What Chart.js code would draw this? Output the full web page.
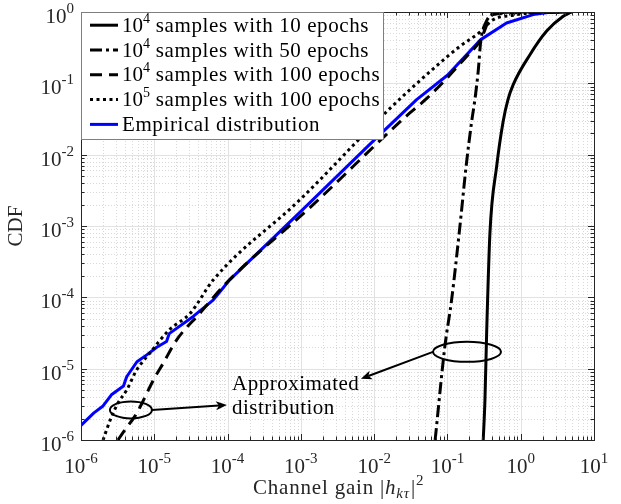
<!DOCTYPE html>
<html>
<head>
<meta charset="utf-8">
<script src="https://cdn.jsdelivr.net/npm/chart.js@4.4.0/dist/chart.umd.min.js"></script>
<style>
  html, body { margin: 0; padding: 0; background: #fff; }
  #wrap { width: 621px; height: 504px; }
</style>
</head>
<body>
<div id="wrap"><canvas id="cdfChart" width="621" height="504"></canvas></div>
<script>
// values (log-log CDF of channel gain)
const xDecades = [-6, -5, -4, -3, -2, -1, 0, 1];
const yDecades = [-6, -5, -4, -3, -2, -1, 0];

// 10^4 samples with 10 epochs (solid)
const ep10X = [0.308, 0.325, 0.343, 0.38, 0.47, 0.575, 0.67, 0.79, 1.33, 2.26, 3.8, 4.9];
const ep10Y = [1e-6, 3.6e-6, 3.2e-5, 7.9e-4, 6.9e-3, 0.029, 0.059, 0.096, 0.25, 0.54, 0.87, 1];

// 10^4 samples with 50 epochs (dash-dot)
const ep50X = [0.068, 0.092, 0.114, 0.148, 0.18, 0.214, 0.237, 0.263, 0.285, 0.34, 0.46, 0.7, 4.9];
const ep50Y = [1e-6, 2e-5, 9.2e-5, 9.9e-4, 6.9e-3, 0.029, 0.059, 0.148, 0.39, 0.74, 0.97, 0.995, 1];

// 10^4 samples with 100 epochs (dashed)
const ep100X = [3.2e-6, 3.8e-6, 5.5e-6, 6.4e-6, 9.7e-6, 1.33e-5, 2.0e-5, 4.2e-5, 9.7e-5, 1.4e-3, 2.6e-2, 5.0e-2, 9.0e-2, 0.17, 0.277, 0.42, 1.0, 4.9];
const ep100Y = [1e-6, 1.3e-6, 2.2e-6, 2.9e-6, 6.9e-6, 1.2e-5, 2.5e-5, 6e-5, 1.6e-4, 1.9e-3, 0.033, 0.059, 0.107, 0.22, 0.39, 0.92, 0.98, 1];

// 10^5 samples with 100 epochs (dotted)
const big100X = [2.0e-6, 2.5e-6, 3.2e-6, 4.2e-6, 5.75e-6, 8.3e-6, 1.6e-5, 3.1e-5, 6.4e-5, 1e-3, 1.4e-2, 6.4e-2, 0.148, 0.277, 0.42, 0.79, 1.33, 4.9];
const big100Y = [1e-6, 1.9e-6, 3.3e-6, 5e-6, 9.6e-6, 1.56e-5, 3.5e-5, 6e-5, 1.76e-4, 2.4e-3, 0.038, 0.16, 0.33, 0.52, 0.78, 0.9, 0.97, 1];

// empirical distribution (blue)
const empX = [1e-6, 1.5e-6, 2.0e-6, 2.6e-6, 3.8e-6, 4.2e-6, 5.8e-6, 7.9e-6, 1.08e-5, 1.47e-5, 1.6e-5, 3.4e-5, 6.4e-5, 1.07e-4, 1e-3, 1e-2, 3.8e-2, 0.1, 0.285, 0.64, 1.48, 2.5, 4.9];
const empY = [1.6e-6, 2.4e-6, 3.0e-6, 4.3e-6, 5.7e-6, 7.7e-6, 1.25e-5, 1.56e-5, 2.0e-5, 2.4e-5, 3.1e-5, 5.4e-5, 9.2e-5, 1.76e-4, 1.6e-3, 1.6e-2, 0.059, 0.13, 0.41, 0.70, 0.92, 0.99, 1];

const legendLabels = [
  ['10', '4', ' samples with 10 epochs'],
  ['10', '4', ' samples with 50 epochs'],
  ['10', '4', ' samples with 100 epochs'],
  ['10', '5', ' samples with 100 epochs'],
  ['', '', 'Empirical distribution']
];

// annotation anchors (data coordinates)
const noteText = ['Approximated', 'distribution'];
const noteAt = [1.15e-4, 5.0e-6];
const ellipseLow = [4.8e-6, 2.64e-6];
const ellipseHigh = [0.185, 1.72e-5];
const arrowLowTip = [9.8e-5, 3.1e-6];
const arrowHighTip = [6.6e-3, 7.2e-6];

function pts(xs, ys){ return xs.map((x, i) => ({ x: x, y: ys[i] })); }

const SERIF = '"Liberation Serif", "Times New Roman", serif';
const AXIS_COLOR = '#262626';

function spacing(ctx, px){ if ('letterSpacing' in ctx) ctx.letterSpacing = px + 'px'; }

function drawPow(ctx, base, exp, x, y, align, bSize, sSize, rise){
  ctx.font = bSize + 'px ' + SERIF;
  const wb = ctx.measureText(base).width;
  ctx.font = sSize + 'px ' + SERIF;
  const we = ctx.measureText(exp).width;
  let x0 = x;
  if (align === 'center') x0 = x - (wb + we) / 2;
  else if (align === 'right') x0 = x - wb - we;
  ctx.textAlign = 'left';
  ctx.font = bSize + 'px ' + SERIF;
  ctx.fillText(base, x0, y);
  ctx.font = sSize + 'px ' + SERIF;
  ctx.fillText(exp, x0 + wb, y - rise);
  return x0 + wb + we;
}

const matlabAxes = {
  id: 'matlabAxes',
  beforeDatasetsDraw(chart){
    const { ctx, chartArea: a, scales: { x, y } } = chart;
    ctx.save();
    ctx.lineWidth = 1;
    // minor dotted grid
    ctx.strokeStyle = '#d9d9d9';
    ctx.setLineDash([1, 2]);
    ctx.beginPath();
    xDecades.slice(0, -1).forEach(d => {
      for (let k = 2; k <= 9; k++){
        const px = Math.round(x.getPixelForValue(k * Math.pow(10, d))) + 0.5;
        ctx.moveTo(px, a.top); ctx.lineTo(px, a.bottom);
      }
    });
    yDecades.slice(0, -1).forEach(d => {
      for (let k = 2; k <= 9; k++){
        const py = Math.round(y.getPixelForValue(k * Math.pow(10, d))) + 0.5;
        ctx.moveTo(a.left, py); ctx.lineTo(a.right, py);
      }
    });
    ctx.stroke();
    // major solid grid
    ctx.setLineDash([]);
    ctx.strokeStyle = '#e2e2e2';
    ctx.beginPath();
    xDecades.forEach(d => {
      const px = Math.round(x.getPixelForValue(Math.pow(10, d))) + 0.5;
      ctx.moveTo(px, a.top); ctx.lineTo(px, a.bottom);
    });
    yDecades.forEach(d => {
      const py = Math.round(y.getPixelForValue(Math.pow(10, d))) + 0.5;
      ctx.moveTo(a.left, py); ctx.lineTo(a.right, py);
    });
    ctx.stroke();
    ctx.restore();
  },
  afterDatasetsDraw(chart){
    const { ctx, chartArea: a, scales: { x, y } } = chart;
    ctx.save();
    // annotations: ellipses + arrows
    ctx.strokeStyle = '#000';
    ctx.fillStyle = '#000';
    ctx.lineWidth = 2;
    const e1 = { x: x.getPixelForValue(ellipseLow[0]), y: y.getPixelForValue(ellipseLow[1]), rx: 21, ry: 8.5 };
    const e2 = { x: x.getPixelForValue(ellipseHigh[0]), y: y.getPixelForValue(ellipseHigh[1]), rx: 34, ry: 10 };
    [e1, e2].forEach(e => {
      ctx.beginPath(); ctx.ellipse(e.x, e.y, e.rx, e.ry, 0, 0, Math.PI * 2); ctx.stroke();
    });
    function arrow(x0, y0, x1, y1){
      const ang = Math.atan2(y1 - y0, x1 - x0);
      const len = 11, hw = 4.5;
      const bx = x1 - len * Math.cos(ang), by = y1 - len * Math.sin(ang);
      ctx.beginPath(); ctx.moveTo(x0, y0); ctx.lineTo(bx + 3 * Math.cos(ang), by + 3 * Math.sin(ang)); ctx.stroke();
      ctx.beginPath();
      ctx.moveTo(x1, y1);
      ctx.lineTo(bx - hw * Math.sin(ang), by + hw * Math.cos(ang));
      ctx.lineTo(bx + 3 * Math.cos(ang), by + 3 * Math.sin(ang));
      ctx.lineTo(bx + hw * Math.sin(ang), by - hw * Math.cos(ang));
      ctx.closePath(); ctx.fill();
    }
    arrow(e1.x + e1.rx, e1.y, x.getPixelForValue(arrowLowTip[0]), y.getPixelForValue(arrowLowTip[1]));
    arrow(e2.x - e2.rx, e2.y, x.getPixelForValue(arrowHighTip[0]), y.getPixelForValue(arrowHighTip[1]));
    ctx.font = '21px ' + SERIF;
    spacing(ctx, 0.5);
    ctx.textAlign = 'left';
    const tx = x.getPixelForValue(noteAt[0]), ty = y.getPixelForValue(noteAt[1]);
    ctx.fillText(noteText[0], tx, ty);
    ctx.fillText(noteText[1], tx, ty + 24);
    spacing(ctx, 0);

    // axes box and inward ticks (all four sides)
    ctx.strokeStyle = AXIS_COLOR;
    ctx.lineWidth = 1;
    ctx.beginPath();
    xDecades.forEach((d, i) => {
      for (let k = 1; k <= 9; k++){
        if (i === xDecades.length - 1 && k > 1) break;
        const px = Math.round(x.getPixelForValue(k * Math.pow(10, d))) + 0.5;
        const L = k === 1 ? 6 : 3.5;
        ctx.moveTo(px, a.bottom); ctx.lineTo(px, a.bottom - L);
        ctx.moveTo(px, a.top); ctx.lineTo(px, a.top + L);
      }
    });
    yDecades.forEach((d, i) => {
      for (let k = 1; k <= 9; k++){
        if (i === yDecades.length - 1 && k > 1) break;
        const py = Math.round(y.getPixelForValue(k * Math.pow(10, d))) + 0.5;
        const L = k === 1 ? 6 : 3.5;
        ctx.moveTo(a.left, py); ctx.lineTo(a.left + L, py);
        ctx.moveTo(a.right, py); ctx.lineTo(a.right - L, py);
      }
    });
    ctx.stroke();
    ctx.strokeRect(Math.round(a.left) + 0.5, Math.round(a.top) + 0.5, Math.round(a.right - a.left), Math.round(a.bottom - a.top));

    // legend box, north-west corner
    const lx = Math.round(a.left) + 0.5, ly = Math.round(a.top) + 0.5;
    ctx.fillStyle = '#fff';
    ctx.fillRect(lx, ly, 302, 127);
    ctx.strokeStyle = '#7f7f7f';
    ctx.strokeRect(lx, ly, 302, 127);
    chart.data.datasets.forEach((ds, i) => {
      const base = 31.7 + i * 24.8;
      ctx.save();
      ctx.strokeStyle = ds.borderColor;
      ctx.lineWidth = ds.borderWidth;
      ctx.setLineDash(ds.borderDash || []);
      ctx.beginPath(); ctx.moveTo(90, base - 6.5); ctx.lineTo(118, base - 6.5); ctx.stroke();
      ctx.restore();
      ctx.fillStyle = '#000';
      const lab = legendLabels[i];
      let cx = 122;
      if (lab[0]) cx = drawPow(ctx, lab[0], lab[1], cx, base, 'left', 21, 14, 9);
      ctx.font = '21px ' + SERIF;
      spacing(ctx, 0.6);
      ctx.fillText(lab[2], cx, base);
      spacing(ctx, 0);
    });
    ctx.restore();
  },
  afterDraw(chart){
    const { ctx, chartArea: a, scales: { x, y } } = chart;
    ctx.save();
    ctx.fillStyle = AXIS_COLOR;
    ctx.textBaseline = 'alphabetic';
    xDecades.forEach(d => {
      drawPow(ctx, '10', String(d), x.getPixelForValue(Math.pow(10, d)), a.bottom + 33, 'center', 21, 15, 10);
    });
    yDecades.forEach(d => {
      drawPow(ctx, '10', String(d), a.left - 7, y.getPixelForValue(Math.pow(10, d)) + 11, 'right', 21, 15, 10);
    });
    // x axis title: Channel gain |h_{k tau}|^2
    let cx = 253;
    const by = 494;
    spacing(ctx, 0.8);
    ctx.font = '21px ' + SERIF;
    ctx.fillText('Channel gain |', cx, by);
    cx += ctx.measureText('Channel gain |').width;
    ctx.font = 'italic 21px ' + SERIF;
    ctx.fillText('h', cx, by);
    cx += ctx.measureText('h').width;
    ctx.font = 'italic 15px ' + SERIF;
    ctx.fillText('k\u03C4', cx, by + 4);
    cx += ctx.measureText('k\u03C4').width + 1;
    ctx.font = '21px ' + SERIF;
    ctx.fillText('|', cx, by);
    cx += ctx.measureText('|').width;
    ctx.font = '15px ' + SERIF;
    ctx.fillText('2', cx, by - 9);
    spacing(ctx, 0);
    // y axis title
    ctx.translate(22, (a.top + a.bottom) / 2);
    ctx.rotate(-Math.PI / 2);
    ctx.textAlign = 'center';
    ctx.font = '21px ' + SERIF;
    ctx.fillText('CDF', 0, 0);
    ctx.restore();
  }
};

const ctx = document.getElementById('cdfChart').getContext('2d');
new Chart(ctx, {
  type: 'line',
  data: {
    datasets: [
      { label: '10^4 samples with 10 epochs', data: pts(ep10X, ep10Y), borderColor: '#000', borderWidth: 3, borderDash: [], cubicInterpolationMode: 'monotone' },
      { label: '10^4 samples with 50 epochs', data: pts(ep50X, ep50Y), borderColor: '#000', borderWidth: 3, borderDash: [12, 4, 3, 4], cubicInterpolationMode: 'monotone' },
      { label: '10^4 samples with 100 epochs', data: pts(ep100X, ep100Y), borderColor: '#000', borderWidth: 3, borderDash: [12, 7], cubicInterpolationMode: 'monotone' },
      { label: '10^5 samples with 100 epochs', data: pts(big100X, big100Y), borderColor: '#000', borderWidth: 3, borderDash: [3, 3.5], cubicInterpolationMode: 'monotone' },
      { label: 'Empirical distribution', data: pts(empX, empY), borderColor: '#0000ff', borderWidth: 3, borderDash: [] }
    ]
  },
  options: {
    responsive: false,
    animation: false,
    layout: { padding: { left: 81, right: 27, top: 12, bottom: 64 } },
    elements: { point: { radius: 0 }, line: { tension: 0, fill: false, borderCapStyle: 'butt', borderJoinStyle: 'round' } },
    plugins: { legend: { display: false }, tooltip: { enabled: false } },
    scales: {
      x: { type: 'logarithmic', min: 1e-6, max: 10, display: false },
      y: { type: 'logarithmic', min: 1e-6, max: 1, display: false }
    }
  },
  plugins: [matlabAxes]
});
</script>
</body>
</html>
